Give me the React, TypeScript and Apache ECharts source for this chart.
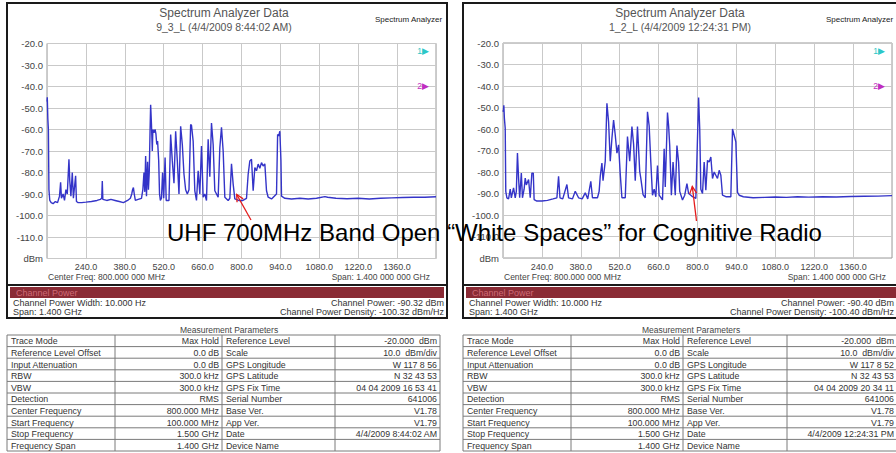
import React, { useEffect, useRef } from 'react';
import * as echarts from 'echarts';

const FONT = '"Liberation Sans", Arial, Helvetica, sans-serif';

// x tick labels shown (MHz)
const xLabelValues = [240, 380, 520, 660, 800, 940, 1080, 1220, 1360];

// Trace of 9_3_L  [MHz, dBm]
const leftTrace = [
  [100, -47], [101, -45], [103, -55], [105, -60], [107, -88], [110, -93], [115, -94], [122, -94.5], [130, -93.5],
  [138, -94], [145, -91], [149, -84.6], [152, -92], [158, -90], [163, -93], [168, -88], [173, -90], [179, -73.8],
  [182, -84], [186, -91], [191, -80], [195, -92], [198, -88], [203, -81.5], [206, -93.5], [212, -94], [225, -94],
  [240, -93.8], [260, -93.5], [280, -93], [292, -92.5], [297, -92], [299, -84], [301, -92.5], [315, -93], [330, -92.5],
  [345, -93], [360, -93.5], [375, -94], [390, -93], [400, -92], [405, -90], [408, -88], [411, -87], [414, -90],
  [418, -93], [428, -92.5], [440, -92], [445, -88], [449, -80], [452, -89], [455, -72.3], [458, -91], [462, -75],
  [465, -88], [468, -80], [471, -60], [473, -48.5], [476, -57.7], [479, -70], [481, -60], [485, -61.5], [489, -60],
  [492, -62], [495, -67], [498, -65.4], [502, -74.6], [505, -90], [508, -93], [512, -92], [516, -80], [520, -92],
  [525, -73], [529, -93], [539, -93], [545, -62.3], [551, -74.6], [557, -85], [563, -60.8], [569, -74.6], [575, -90],
  [581, -58.5], [587, -67], [593, -80.8], [599, -88], [605, -90], [611, -88], [617, -57.7], [620, -58], [626, -65.4],
  [632, -88.5], [638, -93], [644, -79.2], [650, -90], [656, -67.7], [662, -91.5], [668, -90], [674, -93], [680, -64.6],
  [686, -82], [692, -57], [698, -67], [704, -88.5], [710, -90], [716, -91.5], [722, -68.5], [728, -59], [734, -70],
  [740, -91.5], [752, -93], [758, -92], [764, -76], [770, -85.4], [776, -92.3], [790, -93], [805, -93], [818, -92],
  [824, -80.8], [830, -74.6], [836, -73.8], [842, -88.5], [848, -77.7], [854, -79.2], [860, -76.1], [866, -78],
  [872, -75.4], [878, -77], [884, -76], [890, -88.5], [896, -91.5], [908, -92.3], [918, -91], [926, -90], [930, -62.3],
  [934, -63], [938, -60.8], [942, -74.6], [944, -91], [956, -92], [980, -92.3], [1010, -92], [1040, -92.3], [1070, -92],
  [1100, -91.2], [1110, -91.5], [1140, -92], [1180, -92.2], [1220, -92], [1260, -92.3], [1300, -92], [1340, -91.8],
  [1380, -91.6], [1420, -91.5], [1460, -91.5], [1500, -91.3],
];

// Trace of 1_2_L  [MHz, dBm]
const rightTrace = [
  [100, -52], [102, -51], [103, -49], [105, -55], [108, -59.7], [110, -89], [114, -92], [120, -92.5], [126, -88],
  [130, -92], [138, -87.4], [144, -92], [148, -89], [152, -71.2], [156, -82.8], [160, -92], [166, -80.5], [170, -92],
  [176, -88], [180, -82.8], [184, -86], [192, -83.5], [198, -92], [204, -80.5], [209, -80.5], [212, -92.8], [222, -93.5],
  [240, -93.5], [260, -93.2], [280, -92.5], [294, -92], [300, -82], [305, -92], [315, -92.5], [330, -85.8], [336, -92],
  [350, -92.5], [360, -89], [372, -92], [385, -92.5], [396, -89.7], [405, -92.5], [416, -84.3], [422, -92], [440, -92],
  [446, -89], [450, -82], [456, -75.8], [460, -84], [468, -75], [474, -48], [480, -56.6], [486, -75], [492, -64.3],
  [498, -55.8], [504, -62.8], [510, -71.2], [516, -67.4], [522, -81], [528, -92], [540, -92], [548, -63.5], [556, -75],
  [564, -58.9], [570, -67], [576, -84], [584, -58.9], [592, -79.7], [596, -83], [604, -90.5], [612, -92], [620, -52],
  [626, -58.5], [632, -75.4], [638, -90.8], [644, -88], [650, -91.5], [656, -77], [662, -90.8], [674, -93], [680, -69.2],
  [684, -87], [692, -52.3], [696, -58.5], [700, -67.7], [706, -90.8], [712, -75.4], [720, -90.8], [726, -67.7],
  [732, -75.4], [736, -89], [746, -93], [754, -90.8], [762, -85.4], [768, -90], [776, -90.8], [782, -91.5], [794, -92.3],
  [804, -45.4], [808, -60], [812, -88], [818, -90], [824, -75.4], [830, -88.5], [836, -74.6], [842, -75.4], [848, -73],
  [854, -83], [860, -80], [866, -81.5], [872, -83], [878, -79.2], [884, -81.5], [890, -90.8], [902, -91.5], [920, -91.5],
  [926, -60], [932, -63], [938, -66], [944, -89.5], [950, -90.8], [965, -91.5], [1000, -92], [1040, -91.8], [1080, -91.6],
  [1120, -91.8], [1160, -91.5], [1200, -91.7], [1250, -91.5], [1300, -91.6], [1350, -91.4], [1400, -91.3], [1450, -91.2],
  [1500, -91],
];

const tableLabelsA = ['Trace Mode', 'Reference Level Offset', 'Input Attenuation', 'RBW', 'VBW', 'Detection',
  'Center Frequency', 'Start Frequency', 'Stop Frequency', 'Frequency Span'];
const tableValuesA = ['Max Hold', '0.0 dB', '0.0 dB', '300.0 kHz', '300.0 kHz', 'RMS', '800.000 MHz',
  '100.000 MHz', '1.500 GHz', '1.400 GHz'];
const tableLabelsB = ['Reference Level', 'Scale', 'GPS Longitude', 'GPS Latitude', 'GPS Fix Time', 'Serial Number',
  'Base Ver.', 'App Ver.', 'Date', 'Device Name'];
const leftValuesB = ['-20.000  dBm', '10.0  dBm/div', 'W 117 8 56', 'N 32 43 53', '04 04 2009 16 53 41', '641006',
  'V1.78', 'V1.79', '4/4/2009 8:44:02 AM', ''];
const rightValuesB = ['-20.000  dBm', '10.0  dBm/div', 'W 117 8 52', 'N 32 43 53', '04 04 2009 20 34 11', '641006',
  'V1.78', 'V1.79', '4/4/2009 12:24:31 PM', ''];

const panels = [
  {
    dx: 0, sub: '9_3_L (4/4/2009 8:44:02 AM)', power: 'Channel Power: -90.32 dBm',
    density: 'Channel Power Density: -100.32 dBm/Hz', cols: [7, 115, 222, 335, 440], tableCenter: 229,
    valuesB: leftValuesB, textRight: 444, brand: 375,
  },
  {
    dx: 456, sub: '1_2_L (4/4/2009 12:24:31 PM)', power: 'Channel Power: -90.40 dBm',
    density: 'Channel Power Density: -100.40 dBm/Hz', cols: [463, 571, 683, 787, 902], tableCenter: 691,
    valuesB: rightValuesB, textRight: 438, brand: 370,
  },
];

function txt(x: number, y: number, text: string, size: number, fill: string, align = 'left', extra: any = {}) {
  return {
    type: 'text', x, y, silent: true, ...extra,
    style: { text, fontSize: size, fontFamily: FONT, fill, align, verticalAlign: 'middle' },
  };
}
function ln(x1: number, y1: number, x2: number, y2: number, stroke: string, w = 1, extra: any = {}) {
  return { type: 'line', silent: true, ...extra, shape: { x1, y1, x2, y2 }, style: { stroke, lineWidth: w } };
}
function arrow(sx: number, sy: number, tx: number, ty: number) {
  const dxv = tx - sx, dyv = ty - sy;
  const len = Math.sqrt(dxv * dxv + dyv * dyv);
  const ux = dxv / len, uy = dyv / len;
  const bx = tx - ux * 7, by = ty - uy * 7;
  const px = -uy * 3.5, py = ux * 3.5;
  return [
    ln(sx, sy, tx, ty, '#e41b1b', 1.3, { z: 110 }),
    { type: 'polyline', silent: true, z: 110, shape: { points: [[bx + px, by + py], [tx, ty], [bx - px, by - py]] },
      style: { stroke: '#e41b1b', lineWidth: 1.3, fill: 'none' } },
  ];
}

function panelGraphics(p: any) {
  const d = p.dx;
  const g: any[] = [];
  g.push({ type: 'rect', silent: true, shape: { x: 7 + d, y: 3, width: 440, height: 315 },
    style: { fill: 'none', stroke: '#1a1a1a', lineWidth: 2 } });
  g.push(txt(224 + d, 13, 'Spectrum Analyzer Data', 12, '#555', 'center'));
  g.push(txt(224 + d, 27, p.sub, 10.5, '#555', 'center'));
  g.push(txt(p.brand + d, 19, 'Spectrum Analyzer', 8, '#222'));
  g.push(txt(429 + d, 51, '1\u25B6', 8.5, '#2cc7c7', 'right', { z: 20 }));
  g.push(txt(429 + d, 86, '2\u25B6', 8.5, '#c02cc0', 'right', { z: 20 }));
  g.push(txt(48 + d, 277, 'Center Freq: 800.000 000 MHz', 8.5, '#444'));
  g.push(txt(430 + d, 277, 'Span: 1.400 000 000 GHz', 8.5, '#444', 'right'));
  g.push(ln(7 + d, 285, 447 + d, 285, '#1a1a1a', 2));
  g.push({ type: 'rect', silent: true, shape: { x: 10 + d, y: 287, width: 434, height: 11 }, style: { fill: '#8a2b35' } });
  g.push(txt(16 + d, 292.5, 'Channel Power', 9, '#cf6a76'));
  g.push(txt(13 + d, 303, 'Channel Power Width: 10.000 Hz', 9, '#333'));
  g.push(txt(p.textRight + d, 303, p.power, 9, '#333', 'right'));
  g.push(txt(13 + d, 312, 'Span: 1.400 GHz', 9, '#333'));
  g.push(txt(p.textRight + d, 312, p.density, 9, '#333', 'right'));
  // Measurement table
  const c = p.cols;
  const top = 335, rh = 11.6;
  g.push(txt(p.tableCenter, 330, 'Measurement Parameters', 8.5, '#444', 'center'));
  for (let i = 0; i <= tableLabelsA.length; i++) {
    g.push(ln(c[0], top + i * rh, c[4], top + i * rh, '#7a7a7a', 1));
  }
  for (let j = 0; j < c.length; j++) {
    g.push(ln(c[j], top, c[j], top + tableLabelsA.length * rh, '#7a7a7a', 1));
  }
  const valRight = Math.min(c[4] - 3, 894);
  for (let i = 0; i < tableLabelsA.length; i++) {
    const yc = top + i * rh + rh / 2 + 0.5;
    g.push(txt(c[0] + 4, yc, tableLabelsA[i], 8.8, '#333'));
    g.push(txt(c[2] - 3, yc, tableValuesA[i], 8.8, '#333', 'right'));
    g.push(txt(c[2] + 4, yc, tableLabelsB[i], 8.8, '#333'));
    g.push(txt(valRight, yc, p.valuesB[i], 8.8, '#333', 'right'));
  }
  return g;
}

function makeAxesX(gridIndex: number) {
  return {
    type: 'value', gridIndex, min: 100, max: 1500, interval: 140,
    axisLine: { show: false }, axisTick: { show: false },
    splitLine: { show: true, lineStyle: { color: '#c9c9c9', width: 1 } },
    axisLabel: {
      fontSize: 9, fontFamily: FONT, color: '#444', margin: 4,
      formatter: (v: number) => (xLabelValues.includes(Math.round(v)) ? v.toFixed(1) : ''),
    },
  };
}
function makeAxesY(gridIndex: number) {
  return {
    type: 'value', gridIndex, min: -120, max: -20, interval: 10,
    axisLine: { show: false }, axisTick: { show: false },
    splitLine: { show: true, lineStyle: { color: '#c9c9c9', width: 1 } },
    axisLabel: {
      fontSize: 9.5, fontFamily: FONT, color: '#444', margin: 4,
      formatter: (v: number) => (Math.round(v) === -120 ? 'dBm' : v.toFixed(1)),
    },
  };
}

export default function App() {
  const ref = useRef<HTMLDivElement>(null);
  useEffect(() => {
    if (!ref.current) return;
    const chart = echarts.init(ref.current, undefined, { renderer: 'svg' });
    const graphic: any[] = [];
    panels.forEach((p) => graphic.push(...panelGraphics(p)));
    graphic.push(txt(167, 232, 'UHF 700MHz Band Open \u201CWhite Spaces\u201D for Cognitive Radio', 24, '#000', 'left', { z: 120 }));
    graphic.push(...arrow(251, 220, 236.7, 194.5));
    graphic.push(...arrow(696.5, 221, 692.3, 186.5));
    chart.setOption({
      animation: false,
      backgroundColor: '#ffffff',
      grid: [
        { left: 47, top: 43.5, width: 389, height: 215, show: true, borderColor: '#9a9a9a', borderWidth: 1 },
        { left: 503, top: 43, width: 389, height: 215, show: true, borderColor: '#9a9a9a', borderWidth: 1 },
      ],
      xAxis: [makeAxesX(0), makeAxesX(1)],
      yAxis: [makeAxesY(0), makeAxesY(1)],
      series: [
        { type: 'line', xAxisIndex: 0, yAxisIndex: 0, data: leftTrace, showSymbol: false, silent: true,
          lineStyle: { color: '#3434c8', width: 1.4 } },
        { type: 'line', xAxisIndex: 1, yAxisIndex: 1, data: rightTrace, showSymbol: false, silent: true,
          lineStyle: { color: '#3434c8', width: 1.4 } },
      ],
      graphic: { elements: graphic },
    });
    return () => chart.dispose();
  }, []);
  return (
    <div ref={ref} style={{ position: 'absolute', left: 0, top: 0, width: 896, height: 453, background: '#fff' }} />
  );
}
